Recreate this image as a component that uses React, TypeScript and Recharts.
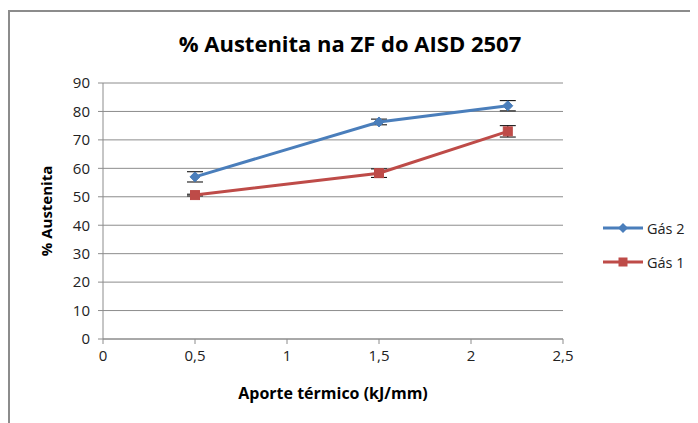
import React from "react";
import { LineChart, Line, XAxis, YAxis, CartesianGrid, ErrorBar } from "recharts";

const xValues = [0.5, 1.5, 2.2];
const gas2Values = [57, 76.3, 82];
const gas1Values = [50.6, 58.3, 73];
const gas2Err = [1.8, 1.0, 1.8];
const gas1Err = [0.3, 1.5, 2.0];
const xTicks = [0, 0.5, 1, 1.5, 2, 2.5];
const yTicks = [0, 10, 20, 30, 40, 50, 60, 70, 80, 90];
const seriesNames = ["Gás 2", "Gás 1"];

const BLUE = "#4a7ebb";
const RED = "#be4b48";
const FONT = "'Open Sans', 'Noto Sans', sans-serif";

const data = xValues.map((x, i) => ({
  x,
  gas2: gas2Values[i],
  gas1: gas1Values[i],
  gas2Err: gas2Err[i],
  gas1Err: gas1Err[i],
}));

const Diamond = (props: any) => {
  const { cx, cy, index } = props;
  if (cx == null || cy == null) return <g key={index} />;
  const r = 5;
  return (
    <path
      key={index}
      d={`M${cx},${cy - r} L${cx + r},${cy} L${cx},${cy + r} L${cx - r},${cy} Z`}
      fill={BLUE}
      stroke={BLUE}
    />
  );
};

const Square = (props: any) => {
  const { cx, cy, index } = props;
  if (cx == null || cy == null) return <g key={index} />;
  const s = 4.5;
  return <rect key={index} x={cx - s} y={cy - s} width={2 * s} height={2 * s} fill={RED} stroke={RED} />;
};

const LegendBox = () => {
  const items = [
    { name: seriesNames[0], color: BLUE, shape: "diamond" },
    { name: seriesNames[1], color: RED, shape: "square" },
  ];
  return (
    <div
      style={{
        position: "absolute",
        left: 592,
        top: 199,
        fontFamily: FONT,
        fontSize: 14.5,
        color: "#222",
      }}
    >
      {items.map((it) => (
        <div key={it.name} style={{ display: "flex", alignItems: "center", height: 34 }}>
          <svg width={42} height={12} style={{ marginRight: 3 }}>
            <line x1={1} y1={6} x2={41} y2={6} stroke={it.color} strokeWidth={3} />
            {it.shape === "diamond" ? (
              <path d="M21,1 L26,6 L21,11 L16,6 Z" fill={it.color} />
            ) : (
              <rect x={16.5} y={1.5} width={9} height={9} fill={it.color} />
            )}
          </svg>
          <span>{it.name}</span>
        </div>
      ))}
    </div>
  );
};

const fmt = (v: number) => String(v).replace(".", ",");

export default function App() {
  return (
    <div style={{ paddingTop: 2 }}>
      <div
        style={{
          position: "relative",
          width: 700,
          height: 420,
          borderTop: "2px solid #8c8c8c",
          borderLeft: "2px solid #8c8c8c",
          boxSizing: "border-box",
          background: "#fff",
        }}
      >
        <div
          style={{
            position: "absolute",
            left: 0,
            top: 16,
            width: 680,
            textAlign: "center",
            fontFamily: FONT,
            fontWeight: 700,
            fontSize: 22,
            color: "#000",
          }}
        >
          % Austenita na ZF do AISD 2507
        </div>
        <div style={{ position: "absolute", left: 0, top: 0 }}>
          <LineChart
            width={690}
            height={413}
            data={data}
            margin={{ top: 71, right: 137, bottom: 56, left: 43 }}
          >
            <CartesianGrid vertical={false} stroke="#8c8c8c" strokeWidth={1} />
            <XAxis
              dataKey="x"
              type="number"
              domain={[0, 2.5]}
              ticks={xTicks}
              tickFormatter={fmt}
              stroke="#8c8c8c"
              tickSize={5}
              tick={{ fill: "#222", fontSize: 15, fontFamily: FONT }}
              tickMargin={6}
              label={{
                value: "Aporte térmico (kJ/mm)",
                position: "insideBottom",
                offset: -30,
                style: { fontFamily: FONT, fontWeight: 700, fontSize: 16, fill: "#000" },
              }}
            />
            <YAxis
              type="number"
              domain={[0, 90]}
              ticks={yTicks}
              interval={0}
              stroke="#8c8c8c"
              width={50}
              tickSize={5}
              tickMargin={8}
              tick={{ fill: "#222", fontSize: 15, fontFamily: FONT }}
              label={{
                value: "% Austenita",
                angle: -90,
                position: "insideLeft",
                offset: 0,
                dx: -6,
                style: { textAnchor: "middle", fontFamily: FONT, fontWeight: 700, fontSize: 15, fill: "#000" },
              }}
            />
            <Line
              dataKey="gas2"
              name={seriesNames[0]}
              stroke={BLUE}
              strokeWidth={3}
              dot={<Diamond />}
              activeDot={false}
              isAnimationActive={false}
            >
              <ErrorBar dataKey="gas2Err" direction="y" width={8} stroke="#000" strokeWidth={1} />
            </Line>
            <Line
              dataKey="gas1"
              name={seriesNames[1]}
              stroke={RED}
              strokeWidth={3}
              dot={<Square />}
              activeDot={false}
              isAnimationActive={false}
            >
              <ErrorBar dataKey="gas1Err" direction="y" width={8} stroke="#000" strokeWidth={1} />
            </Line>
          </LineChart>
        </div>
        <LegendBox />
      </div>
    </div>
  );
}
